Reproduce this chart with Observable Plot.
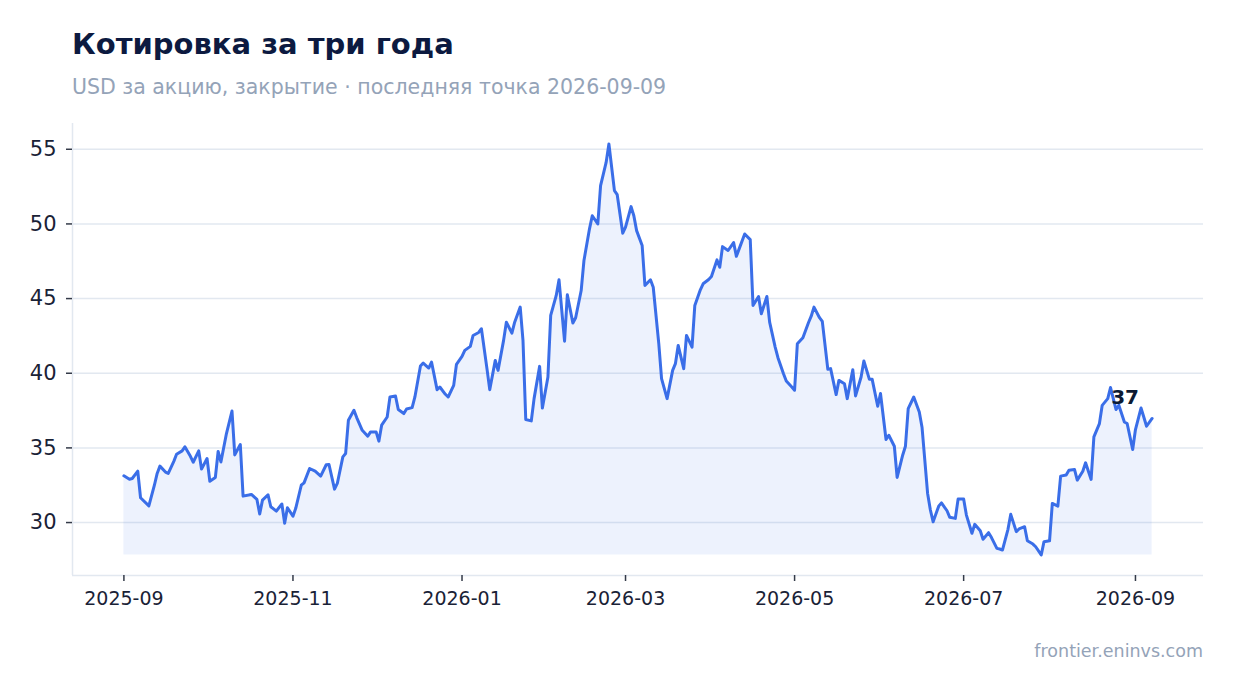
<!DOCTYPE html>
<html>
<head>
<meta charset="utf-8">
<script src="https://cdn.jsdelivr.net/npm/d3@7"></script>
<script src="https://cdn.jsdelivr.net/npm/@observablehq/plot@0.6"></script>
<style>
  html, body { margin: 0; padding: 0; background: #ffffff; }
  body { font-family: "DejaVu Sans", sans-serif; }
  #page { position: relative; width: 1234px; height: 693px; overflow: hidden; }
  #title { position: absolute; left: 72px; top: 30px; font-size: 29px; line-height: 1; font-weight: bold; color: #0c1a40; white-space: nowrap; }
  #subtitle { position: absolute; left: 72px; top: 77px; font-size: 20.5px; line-height: 1; color: #94a3b8; white-space: nowrap; }
  #chart { position: absolute; left: 0; top: 110px; }
  #credit { position: absolute; right: 31px; top: 643px; font-size: 17.5px; line-height: 1; color: #94a3b8; white-space: nowrap; }
</style>
</head>
<body>
<div id="page">
  <div id="title">Котировка за три года</div>
  <div id="subtitle">USD за акцию, закрытие · последняя точка 2026-09-09</div>
  <div id="chart"></div>
  <div id="credit">frontier.eninvs.com</div>
</div>
<script>
const dates = [
  "2025-09-01","2025-09-03","2025-09-04","2025-09-06","2025-09-07","2025-09-10","2025-09-12","2025-09-13","2025-09-14","2025-09-16",
  "2025-09-17","2025-09-19","2025-09-20","2025-09-22","2025-09-23","2025-09-25","2025-09-26","2025-09-28","2025-09-29","2025-10-01",
  "2025-10-02","2025-10-04","2025-10-05","2025-10-06","2025-10-08","2025-10-10","2025-10-11","2025-10-13","2025-10-14","2025-10-16",
  "2025-10-17","2025-10-19","2025-10-20","2025-10-21","2025-10-23","2025-10-24","2025-10-26","2025-10-28","2025-10-29","2025-10-30",
  "2025-11-01","2025-11-02","2025-11-04","2025-11-05","2025-11-07","2025-11-09","2025-11-11","2025-11-13","2025-11-14","2025-11-16",
  "2025-11-17","2025-11-19","2025-11-20","2025-11-21","2025-11-23","2025-11-24","2025-11-26","2025-11-28","2025-11-29","2025-12-01",
  "2025-12-02","2025-12-03","2025-12-05","2025-12-06","2025-12-08","2025-12-09","2025-12-11","2025-12-12","2025-12-14","2025-12-15",
  "2025-12-17","2025-12-18","2025-12-20","2025-12-21","2025-12-23","2025-12-24","2025-12-26","2025-12-27","2025-12-29","2025-12-30",
  "2026-01-01","2026-01-02","2026-01-04","2026-01-05","2026-01-07","2026-01-08","2026-01-10","2026-01-11","2026-01-13","2026-01-14",
  "2026-01-16","2026-01-17","2026-01-19","2026-01-20","2026-01-22","2026-01-23","2026-01-24","2026-01-26","2026-01-27","2026-01-29",
  "2026-01-30","2026-02-01","2026-02-02","2026-02-04","2026-02-05","2026-02-07","2026-02-08","2026-02-10","2026-02-11","2026-02-13",
  "2026-02-14","2026-02-16","2026-02-17","2026-02-19","2026-02-20","2026-02-22","2026-02-23","2026-02-25","2026-02-26","2026-02-28",
  "2026-03-01","2026-03-03","2026-03-04","2026-03-05","2026-03-07","2026-03-08","2026-03-10","2026-03-11","2026-03-13","2026-03-14",
  "2026-03-16","2026-03-18","2026-03-19","2026-03-20","2026-03-22","2026-03-23","2026-03-25","2026-03-26","2026-03-28","2026-03-29",
  "2026-03-31","2026-04-01","2026-04-03","2026-04-04","2026-04-05","2026-04-07","2026-04-09","2026-04-10","2026-04-11","2026-04-13",
  "2026-04-15","2026-04-16","2026-04-18","2026-04-19","2026-04-21","2026-04-22","2026-04-24","2026-04-25","2026-04-27","2026-04-28",
  "2026-04-30","2026-05-01","2026-05-02","2026-05-04","2026-05-06","2026-05-07","2026-05-08","2026-05-10","2026-05-11","2026-05-13",
  "2026-05-14","2026-05-16","2026-05-17","2026-05-19","2026-05-20","2026-05-22","2026-05-23","2026-05-25","2026-05-26","2026-05-28",
  "2026-05-29","2026-05-31","2026-06-01","2026-06-03","2026-06-04","2026-06-06","2026-06-07","2026-06-09","2026-06-10","2026-06-11",
  "2026-06-13","2026-06-15","2026-06-16","2026-06-18","2026-06-19","2026-06-20","2026-06-22","2026-06-23","2026-06-25","2026-06-26",
  "2026-06-28","2026-06-29","2026-07-01","2026-07-02","2026-07-04","2026-07-05","2026-07-07","2026-07-08","2026-07-10","2026-07-11",
  "2026-07-13","2026-07-14","2026-07-15","2026-07-17","2026-07-18","2026-07-20","2026-07-21","2026-07-23","2026-07-24","2026-07-26",
  "2026-07-27","2026-07-29","2026-07-30","2026-08-01","2026-08-02","2026-08-04","2026-08-05","2026-08-07","2026-08-08","2026-08-10",
  "2026-08-11","2026-08-13","2026-08-14","2026-08-16","2026-08-17","2026-08-19","2026-08-20","2026-08-22","2026-08-23","2026-08-25",
  "2026-08-26","2026-08-28","2026-08-29","2026-08-31","2026-09-01","2026-09-03","2026-09-04","2026-09-05","2026-09-07"
];
const closes = [
  33.13,32.90,32.95,33.44,31.66,31.12,32.50,33.29,33.78,33.38,
  33.29,34.10,34.58,34.80,35.07,34.44,34.04,34.80,33.58,34.29,
  32.77,33.02,34.76,34.06,35.96,37.47,34.53,35.23,31.77,31.84,
  31.88,31.55,30.57,31.50,31.86,31.06,30.77,31.24,29.95,30.99,
  30.43,30.95,32.50,32.66,33.62,33.44,33.11,33.87,33.89,32.24,
  32.62,34.40,34.62,36.85,37.52,37.03,36.18,35.78,36.07,36.07,
  35.45,36.52,37.07,38.41,38.48,37.57,37.30,37.61,37.70,38.41,
  40.48,40.68,40.35,40.75,38.90,39.08,38.59,38.41,39.19,40.60,
  41.13,41.53,41.80,42.53,42.73,42.98,40.31,38.90,40.86,40.19,
  42.20,43.42,42.69,43.42,44.43,42.20,36.90,36.81,38.30,40.46,
  37.67,39.75,43.87,45.21,46.26,42.15,45.25,43.36,43.72,45.54,
  47.55,49.67,50.55,50.00,52.56,54.12,55.35,52.23,51.96,49.38,
  49.78,51.16,50.55,49.55,48.55,45.88,46.26,45.76,41.98,39.64,
  38.30,40.19,40.64,41.86,40.31,42.53,41.75,44.54,45.59,45.99,
  46.28,46.48,47.59,47.10,48.48,48.22,48.75,47.83,48.33,49.33,
  48.95,44.54,45.14,43.98,45.14,43.42,41.75,41.04,39.97,39.48,
  39.08,38.86,41.98,42.38,43.38,43.82,44.43,43.72,43.47,40.26,
  40.31,38.57,39.52,39.30,38.30,40.24,38.48,39.75,40.82,39.59,
  39.59,37.79,38.64,35.56,35.85,35.11,33.02,34.51,35.11,37.63,
  38.41,37.41,36.36,31.95,30.84,30.05,31.10,31.32,30.79,30.35,
  30.28,31.57,31.57,30.50,29.28,29.88,29.45,28.88,29.32,29.01,
  28.27,28.23,28.16,29.55,30.55,29.39,29.57,29.72,28.78,28.56,
  28.38,27.83,28.72,28.78,31.28,31.10,33.11,33.18,33.51,33.56,
  32.84,33.44,34.00,32.89,35.74,36.63,37.85,38.30,39.04,37.57,
  37.85,36.74,36.63,34.89,36.23,37.67,37.07,36.45,36.97
];
const yTicks = [30, 35, 40, 45, 50, 55];
const xTickLabels = ["2025-09", "2025-11", "2026-01", "2026-03", "2026-05", "2026-07", "2026-09"];

const data = dates.map((d, i) => ({date: new Date(d + "T00:00:00Z"), value: closes[i]}));
const xTicks = xTickLabels.map(s => new Date(s + "-01T00:00:00Z"));

const [xMin, xMax] = d3.extent(data, d => d.date);
const xPad = (xMax - xMin) * 0.05;
const xDomain = [new Date(+xMin - xPad), new Date(+xMax + xPad)];
const [yMin, yMax] = d3.extent(data, d => d.value);
const yPad = (yMax - yMin) * 0.05;
const yDomain = [yMin - yPad, yMax + yPad];
const last = data[data.length - 1];

const lineColor = "#3a6ee8";

const chart = Plot.plot({
  width: 1234,
  height: 505,
  marginTop: 13,
  marginBottom: 40,
  marginLeft: 72,
  marginRight: 31,
  style: {fontFamily: "DejaVu Sans, sans-serif", color: "#1a2236", background: "#ffffff", overflow: "visible"},
  x: {type: "utc", domain: xDomain},
  y: {domain: yDomain},
  marks: [
    Plot.gridY(yTicks, {stroke: "#e2e8f0", strokeOpacity: 1, strokeWidth: 1.5}),
    Plot.ruleX([xDomain[0]], {stroke: "#e2e8f0", strokeWidth: 1.5}),
    Plot.ruleY([yDomain[0]], {stroke: "#e2e8f0", strokeWidth: 1.5}),
    Plot.areaY(data, {x: "date", y1: yMin, y2: "value", fill: lineColor, fillOpacity: 0.09}),
    Plot.lineY(data, {x: "date", y: "value", stroke: lineColor, strokeWidth: 3, strokeLinejoin: "round", strokeLinecap: "round"}),
    Plot.axisY(yTicks, {tickSize: 6, tickPadding: 10, fontSize: 21, label: null, stroke: "#333a48", strokeWidth: 1.5}),
    Plot.axisX(xTicks, {tickSize: 6, tickPadding: 10, fontSize: 19, label: null, tickFormat: d3.utcFormat("%Y-%m"), stroke: "#333a48", strokeWidth: 1.5}),
    Plot.text([last], {x: "date", y: "value", text: d => String(Math.round(d.value)), dx: -27, dy: -21, fontSize: 20, fontWeight: "bold", fill: "#0c1a33"})
  ]
});
document.getElementById("chart").appendChild(chart);
</script>
</body>
</html>
